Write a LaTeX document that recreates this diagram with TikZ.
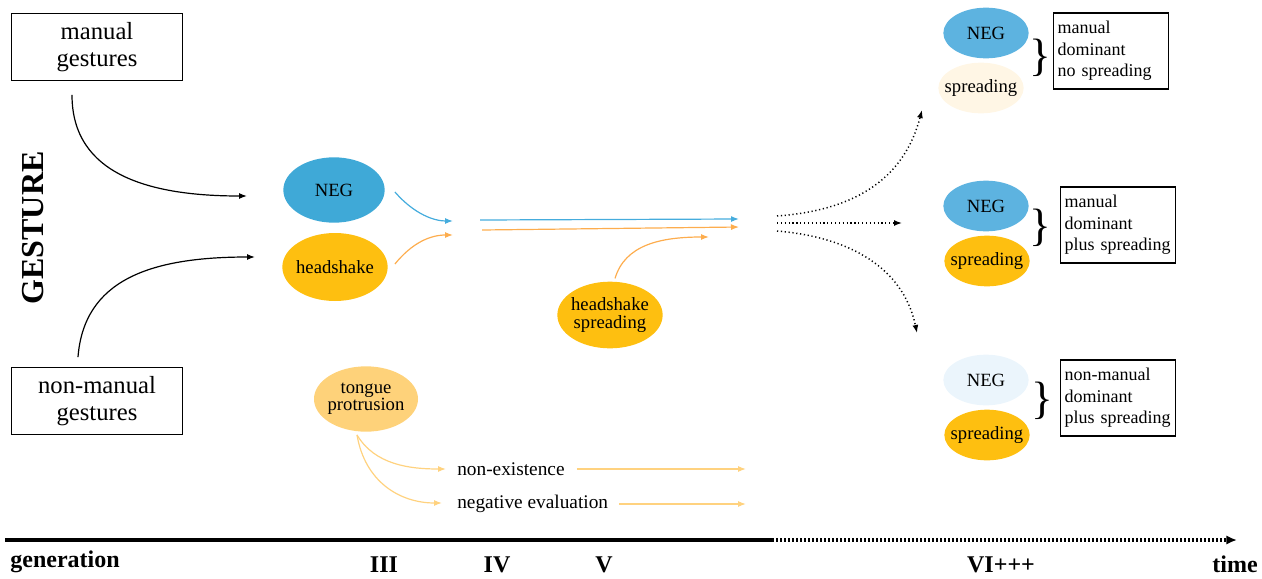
\documentclass[tikz,border=0pt]{standalone}
\usepackage{fontspec}
\setmainfont{Liberation Serif}
\usetikzlibrary{arrows.meta,positioning,shapes.geometric,calc}
\definecolor{NegBlue}{HTML}{3FA9D7}
\definecolor{NegBlueR}{HTML}{5DB3E0}
\definecolor{PaleBlue}{HTML}{EBF5FC}
\definecolor{Amber}{HTML}{FEBF10}
\definecolor{SoftAmber}{HTML}{FED27A}
\definecolor{Cream}{HTML}{FFF6E5}
\definecolor{ArrBlue}{HTML}{45ACDD}
\definecolor{ArrOrange}{HTML}{FDAD4E}
\definecolor{ArrSoft}{HTML}{FFD27F}
\newcommand{\setfs}[2]{\fontsize{#1}{#2}\selectfont}

\begin{document}
\begin{tikzpicture}[x=0.75pt,y=-0.75pt,
  srcbox/.style={draw,line width=0.9pt,minimum width=128pt,minimum height=50pt,align=center,font=\setfs{18.5}{20}},
  blob/.style={ellipse,inner sep=0pt,inner xsep=-12pt,align=center,font=\setfs{14}{13}},
  bigblob/.style={blob,minimum width=78pt,minimum height=49pt},
  smallblob/.style={blob,minimum width=64pt,minimum height=38pt},
  notebox/.style={draw,line width=0.9pt,align=left,text width=80pt,inner xsep=3pt,minimum height=57pt,font=\setfs{13.5}{16}},
  bracket/.style={inner sep=0pt,font=\setfs{34}{34}},
  sense/.style={anchor=west,inner sep=0pt,font=\setfs{14.5}{15}},
  flow/.style={line width=0.9pt,-{Latex[length=6pt,width=4.5pt]}},
  maybe/.style={flow,dotted,line width=1.1pt},
  gen/.style={font=\bfseries\setfs{18}{18}}]
  \useasboundingbox (0,0) rectangle (1262,578);

  \node[rotate=90,font=\bfseries\setfs{24}{24}] (gesture) at (33,228) {GESTURE};
  \node[srcbox] (manual) at (97,47) {manual\\gestures};
  \node[srcbox] (nonmanual) at (97,401) {non-manual\\gestures};

  \node[bigblob,fill=NegBlue,minimum width=76pt] (neg) at (334,190) {NEG};
  \node[bigblob,fill=Amber,minimum width=79pt,minimum height=51pt] (shake) at (335,267) {headshake};
  \node[bigblob,fill=Amber,minimum width=79pt,minimum height=50pt] (shakespread) at (610,315) {headshake\\spreading};
  \node[bigblob,fill=SoftAmber] (tongue) at (366,399) {tongue\\protrusion};
  \node[sense] (nonex) at (457,469) {non-existence};
  \node[sense] (negeval) at (457,504) {negative evaluation};

  \node[smallblob,fill=NegBlueR] (negA) at (986,33) {NEG};
  \node[smallblob,fill=Cream] (spreadA) at (981,88) {spreading};
  \node[bracket] (braceA) at (1040,58) {\}};
  \node[notebox] (noteA) at (1111,51) {manual\\dominant\\no spreading};

  \node[smallblob,fill=NegBlueR] (negB) at (986,206) {NEG};
  \node[smallblob,fill=Amber] (spreadB) at (987,261) {spreading};
  \node[bracket] (braceB) at (1040,228) {\}};
  \node[notebox] (noteB) at (1118,225) {manual\\dominant\\plus spreading};

  \node[smallblob,fill=PaleBlue] (negC) at (986,380) {NEG};
  \node[smallblob,fill=Amber] (spreadC) at (987,435) {spreading};
  \node[bracket] (braceC) at (1042,401) {\}};
  \node[notebox] (noteC) at (1118,398) {non-manual\\dominant\\plus spreading};

  \coordinate (mIn) at (247,196);
  \coordinate (nIn) at (255,257);
  \coordinate (meetB) at (453,221);
  \coordinate (meetO) at (453,235);
  \coordinate (runB0) at (480,220);
  \coordinate (runB1) at (739,219);
  \coordinate (runO0) at (482,230);
  \coordinate (runO1) at (739,227);
  \coordinate (spreadIn) at (709,237);
  \coordinate (senseA) at (446,469);
  \coordinate (senseB) at (442,503);
  \coordinate (senseAend) at (746,469);
  \coordinate (senseBend) at (746,504);
  \coordinate (fanA) at (777,216);
  \coordinate (fanB) at (777,223);
  \coordinate (fanC) at (777,231);
  \coordinate (fanUp) at (922,110);
  \coordinate (fanMid) at (902,223);
  \coordinate (fanDown) at (917,333);

  \draw[flow] ($(manual.south)+(-25,14)$) .. controls (72,175) and (150,196) .. (mIn);
  \draw[flow] ($(nonmanual.north)+(-19,-10)$) .. controls (84,280) and (150,257) .. (nIn);

  \draw[flow,ArrBlue] ($(neg.east)+(10,2)$) .. controls (415,215) and (435,221) .. (meetB);
  \draw[flow,ArrOrange] ($(shake.east)+(7,-3)$) .. controls (412,243) and (430,235) .. (meetO);
  \draw[flow,ArrBlue] (runB0) -- (runB1);
  \draw[flow,ArrOrange] (runO0) -- (runO1);
  \draw[flow,ArrOrange] ($(shakespread.north)+(5,-3)$) .. controls (625,245) and (660,237) .. (spreadIn);

  \draw[flow,ArrSoft] ($(tongue.south)+(-9,3)$) .. controls (375,465) and (410,469) .. (senseA);
  \draw[flow,ArrSoft] ($(tongue.south)+(-9,3)$) .. controls (365,482) and (400,503) .. (senseB);
  \draw[flow,ArrSoft] ($(nonex.east)+(12,0)$) -- (senseAend);
  \draw[flow,ArrSoft] ($(negeval.east)+(11,0)$) -- (senseBend);

  \draw[maybe] (fanA) .. controls (860,210) and (905,175) .. (fanUp);
  \draw[maybe] (fanB) -- (fanMid);
  \draw[maybe] (fanC) .. controls (860,238) and (905,275) .. (fanDown);

  \coordinate (t0) at (5,540);
  \coordinate (tmid) at (772,540);
  \coordinate (tend) at (1237,540);
  \draw[line width=2.6pt] (t0) -- (tmid);
  \draw[line width=2.6pt,dash pattern=on 1.6pt off 1.4pt,-{Latex[length=8pt,width=7pt]}] (tmid) -- (tend);
  \node[gen] (g0) at (65,562) {generation};
  \node[gen] (g3) at (384,565) {III};
  \node[gen] (g4) at (497,565) {IV};
  \node[gen] (g5) at (604,565) {V};
  \node[gen] (g6) at (1001,565) {VI+++};
  \node[gen] (gt) at (1235,564) {time};
\end{tikzpicture}
\end{document}
